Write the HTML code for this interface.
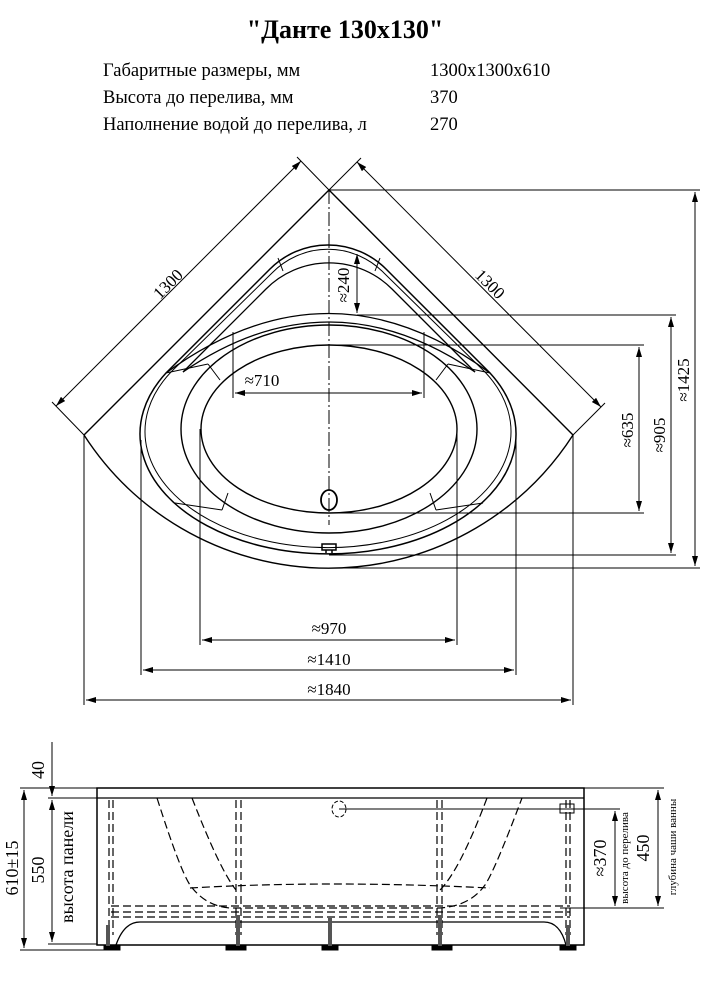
<!DOCTYPE html>
<html><head><meta charset="utf-8"><style>
html,body{margin:0;padding:0;background:#fff}
svg{display:block}
text{font-family:"Liberation Serif",serif;fill:#000}
</style></head><body>
<svg width="714" height="1000" viewBox="0 0 714 1000" xmlns="http://www.w3.org/2000/svg">
<defs><marker id="a" viewBox="0 0 10 6" refX="10" refY="3" markerWidth="10" markerHeight="6" orient="auto-start-reverse" markerUnits="userSpaceOnUse"><path d="M0,0 L10,3 L0,6 z" fill="#000"/></marker></defs>
<text x="345" y="38" font-size="26" font-weight="bold" text-anchor="middle">"Данте 130x130"</text>
<g font-size="18.5">
<text x="103" y="76">Габаритные размеры, мм</text><text x="430" y="76">1300x1300x610</text>
<text x="103" y="103">Высота до перелива, мм</text><text x="430" y="103">370</text>
<text x="103" y="130">Наполнение водой до перелива, л</text><text x="430" y="130">270</text>
</g>
<g fill="none" stroke="#000" stroke-width="1">
<path d="M84,435 L329,190 L573,435 A291,291 0 0 1 84,435" stroke-width="1.4"/>
<path d="M166,373 L270,269 A82,82 0 0 1 386,269 L490,373 A188,120 0 1 1 166,373" stroke-width="1.5"/>
<path d="M171,372 L272,273 A78,78 0 0 1 384,273 L485,372 A183,116 0 1 1 171,372" stroke-width="1"/>
<path d="M183,372 L266,289 A89,89 0 0 1 392,289 L475,372" stroke-width="1.3"/>
<path d="M166,373 Q329,254 490,373" stroke-width="1.3"/>
<path d="M183,372 Q329,272 475,372" stroke-width="1.3"/>
<path d="M166,373 L208,364 M490,373 L448,364"/>
<path d="M278,258 L283,271 M380,258 L375,271"/>
<ellipse cx="329" cy="429" rx="148" ry="104" stroke-width="1.4"/>
<ellipse cx="329" cy="429" rx="128" ry="84" stroke-width="1.4"/>
<path d="M208,364 L220,380 M448,364 L436,380 M228,493 L222,510 M430,493 L436,510 M175,503 L222,510 M483,503 L436,510"/>
<ellipse cx="329" cy="500" rx="8" ry="10" stroke-width="1.8"/>
<path d="M322,544 h14 v6 h-14z M326,550 v3 M332,550 v3" stroke-width="1.5"/>
<path d="M329,190 V525" stroke-dasharray="14,3,2,3"/>
<path d="M84,435 L52,402 M329,190 L297,157"/>
<path d="M56,406 L301,161" marker-start="url(#a)" marker-end="url(#a)"/>
<path d="M329,190 L361,158 M573,435 L605,403"/>
<path d="M357,162 L601,407" marker-start="url(#a)" marker-end="url(#a)"/>
<path d="M329,190 H700 M329,568 H700 M357,315 H676 M329,345 H644 M329,513 H644 M329,555 H676"/>
<path d="M695,192 V566" marker-start="url(#a)" marker-end="url(#a)"/>
<path d="M671,317 V553" marker-start="url(#a)" marker-end="url(#a)"/>
<path d="M639,347 V511" marker-start="url(#a)" marker-end="url(#a)"/>
<path d="M357,254 V313" marker-start="url(#a)" marker-end="url(#a)"/>
<path d="M233,332 V398 M424,332 V398"/>
<path d="M235,393 H422" marker-start="url(#a)" marker-end="url(#a)"/>
<path d="M200,429 V645 M457,429 V645 M141,440 V675 M516,440 V675 M84,435 V705 M573,435 V705"/>
<path d="M202,640 H455" marker-start="url(#a)" marker-end="url(#a)"/>
<path d="M143,670 H514" marker-start="url(#a)" marker-end="url(#a)"/>
<path d="M86,700 H571" marker-start="url(#a)" marker-end="url(#a)"/>
</g>
<g font-size="17">
<text transform="translate(172,288) rotate(-45)" text-anchor="middle">1300</text>
<text transform="translate(486,288) rotate(45)" text-anchor="middle">1300</text>
<text transform="translate(349,285) rotate(-90)" text-anchor="middle">≈240</text>
<text x="262" y="386" text-anchor="middle">≈710</text>
<text transform="translate(633,430) rotate(-90)" text-anchor="middle">≈635</text>
<text transform="translate(665,435) rotate(-90)" text-anchor="middle">≈905</text>
<text transform="translate(689,380) rotate(-90)" text-anchor="middle">≈1425</text>
<text x="329" y="634" text-anchor="middle">≈970</text>
<text x="329" y="665" text-anchor="middle">≈1410</text>
<text x="329" y="695" text-anchor="middle">≈1840</text>
</g>
<g fill="none" stroke="#000" stroke-width="1">
<rect x="97" y="788" width="487" height="157" stroke-width="1.5"/>
<path d="M97,798 H584" stroke-width="1.3"/>
<path d="M116,945 Q124,922 140,922 H544 Q560,922 566,945" stroke-width="1.3"/>
<path d="M20,788 H97 M20,950 H108 M48,798 H97 M48,944 H97"/>
<path d="M24,790 V948" marker-start="url(#a)" marker-end="url(#a)"/>
<path d="M52,800 V942" marker-start="url(#a)" marker-end="url(#a)"/>
<path d="M52,742 V796" marker-end="url(#a)"/>
<path d="M584,788 H664 M339,809 H620 M560,908 H664"/>
<path d="M615,811 V906" marker-start="url(#a)" marker-end="url(#a)"/>
<path d="M658,790 V906" marker-start="url(#a)" marker-end="url(#a)"/>
<ellipse cx="339" cy="809" rx="7" ry="8" stroke-dasharray="4,2"/>
<rect x="560" y="804" width="14" height="9"/>
<g stroke-dasharray="8,4" stroke-width="1.2">
<path d="M109,800 V935 M113,800 V935 M236,800 V935 M241,800 V935 M437,800 V935 M442,800 V935 M566,800 V935 M570,800 V935"/>
<path d="M157,798 Q180,870 190,885 Q205,906 230,908 H440 Q470,906 485,885 Q495,870 522,798"/>
<path d="M192,798 Q220,870 236,890 M487,798 Q460,870 440,890"/>
<path d="M190,888 Q329,880 490,888"/>
<path d="M111,906 H570 M111,912 H570 M111,917 H570"/>
</g>
<path d="M104,950 h16 v-4 h-16z M226,950 h20 v-4 h-20z M322,950 h16 v-4 h-16z M432,950 h20 v-4 h-20z M560,950 h16 v-4 h-16z" fill="#000"/>
<path d="M108,925 v21 M238,915 v31 M330,918 v28 M440,915 v31 M568,925 v21" stroke-width="4" stroke="#555"/>
</g>
<g font-size="18">
<text transform="translate(44,770) rotate(-90)" text-anchor="middle">40</text>
<text transform="translate(18,868) rotate(-90)" text-anchor="middle">610±15</text>
<text transform="translate(44,870) rotate(-90)" text-anchor="middle">550</text>
<text transform="translate(73,867) rotate(-90)" text-anchor="middle">высота панели</text>
<text transform="translate(606,858) rotate(-90)" text-anchor="middle">≈370</text>
<text transform="translate(649,848) rotate(-90)" text-anchor="middle">450</text>
</g>
<g font-size="11">
<text transform="translate(628,858) rotate(-90)" text-anchor="middle">высота до перелива</text>
<text transform="translate(676,847) rotate(-90)" text-anchor="middle">глубина чаши ванны</text>
</g>
</svg>
</body></html>
